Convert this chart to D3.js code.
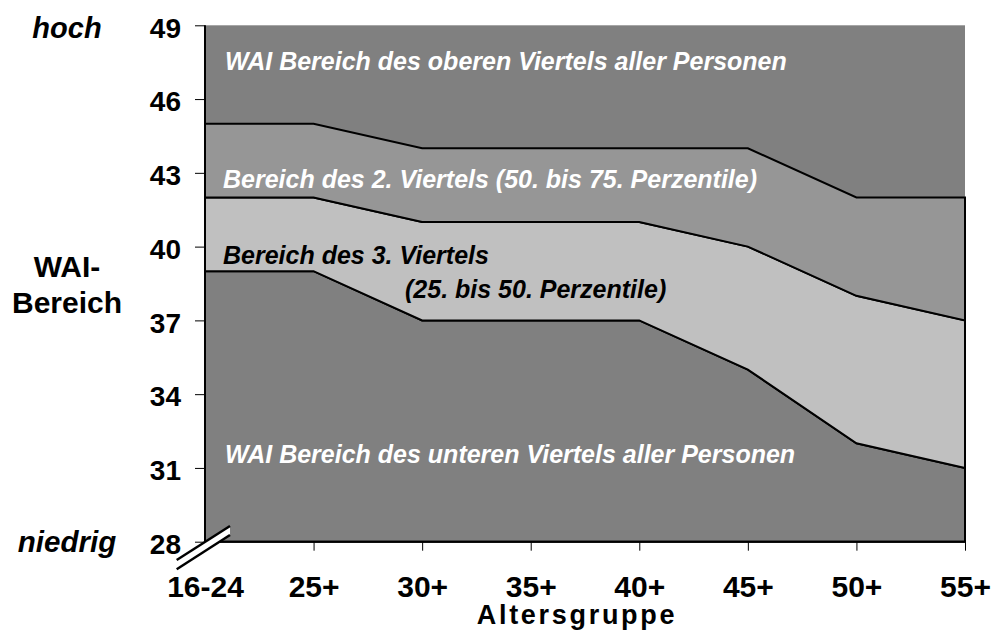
<!DOCTYPE html>
<html>
<head>
<meta charset="utf-8">
<script src="https://cdn.jsdelivr.net/npm/d3@7/dist/d3.min.js"></script>
<style>
  html, body { margin: 0; padding: 0; background: #fff; }
  svg { display: block; }
  text { font-family: "Liberation Sans", Arial, sans-serif; }
</style>
</head>
<body>
<svg id="chart" width="993" height="630"></svg>
<script>
// ---- data ----
const categories = ["16-24", "25+", "30+", "35+", "40+", "45+", "50+", "55+"];
const p25 = [39, 39, 37, 37, 37, 35, 32, 31];
const p50 = [42, 42, 41, 41, 41, 40, 38, 37];
const p75 = [45, 45, 44, 44, 44, 44, 42, 42];
const yTicks = [28, 31, 34, 37, 40, 43, 46, 49];
const yMin = 28, yMax = 49;
const bandLabels = [
  { text: "WAI Bereich des oberen Viertels aller Personen", cat: 0, val: 47.2, dx: 20, color: "#fff" },
  { text: "Bereich des 2. Viertels (50. bis 75. Perzentile)", cat: 0, val: 42.4, dx: 18, color: "#fff" },
  { text: "Bereich des 3. Viertels", cat: 0, val: 39.3, dx: 18, color: "#000" },
  { text: "(25. bis 50. Perzentile)", cat: 0, val: 37.9, dx: 200, color: "#000" },
  { text: "WAI Bereich des unteren Viertels aller Personen", cat: 0, val: 31.2, dx: 20, color: "#fff" }
];

const svg = d3.select("#chart");
const L = 205, R = 965, T = 25.3, B = 541.7;

const x = d3.scalePoint().domain(categories).range([L, R]);
const y = d3.scaleLinear().domain([yMin, yMax]).range([B, T]);

// plot background (top quarter)
svg.append("rect").attr("x", L).attr("y", T).attr("width", R - L).attr("height", B - T)
  .attr("fill", "#808080");

const rows = categories.map((c, i) => ({ c, p25: p25[i], p50: p50[i], p75: p75[i] }));

const bands = [
  { lo: d => yMin, hi: d => d.p25, fill: "#808080" },
  { lo: d => d.p25, hi: d => d.p50, fill: "#c0c0c0" },
  { lo: d => d.p50, hi: d => d.p75, fill: "#969696" }
];
bands.forEach(b => {
  const area = d3.area().x(d => x(d.c)).y0(d => y(b.lo(d))).y1(d => y(b.hi(d)));
  svg.append("path").datum(rows).attr("d", area)
    .attr("fill", b.fill).attr("stroke", "#000").attr("stroke-width", 2)
    .attr("stroke-linejoin", "miter");
});

// y axis
const yAxis = d3.axisLeft(y).tickValues(yTicks).tickSize(10).tickPadding(14);
const gy = svg.append("g").attr("transform", `translate(${L},0)`).call(yAxis);
gy.select(".domain").attr("stroke", "#000").attr("stroke-width", 2).attr("d", `M0,${T}V${B}`);
gy.selectAll(".tick line").attr("stroke", "#000").attr("stroke-width", 1);
gy.selectAll(".tick text").attr("font-size", 28).attr("font-weight", "bold")
  .attr("font-family", "'Liberation Sans', Arial, sans-serif").attr("fill", "#000")
  .attr("dy", "0.42em");

// x axis
const xAxis = d3.axisBottom(x).tickSize(9).tickPadding(0);
const gx = svg.append("g").attr("transform", `translate(0,${B})`).call(xAxis);
gx.select(".domain").attr("stroke", "#000").attr("stroke-width", 2).attr("d", `M${L},0H${R}`);
gx.selectAll(".tick line").attr("stroke", "#000").attr("stroke-width", 1);
gx.selectAll(".tick text").attr("font-size", 30).attr("font-weight", "bold")
  .attr("font-family", "'Liberation Sans', Arial, sans-serif").attr("fill", "#000")
  .attr("dy", null).attr("y", 55);

// break mark at origin
const bk = svg.append("g");
bk.append("path")
  .attr("d", `M176.7,560 L230,526 L230,535 L176.7,569.3 Z`)
  .attr("fill", "#fff");
bk.append("line").attr("x1", 176.7).attr("y1", 560).attr("x2", 230).attr("y2", 526)
  .attr("stroke", "#000").attr("stroke-width", 2.5);
bk.append("line").attr("x1", 176.7).attr("y1", 569.3).attr("x2", 230).attr("y2", 535)
  .attr("stroke", "#000").attr("stroke-width", 2.5);

// band labels
bandLabels.forEach(l => {
  svg.append("text").attr("x", x(categories[l.cat]) + l.dx).attr("y", y(l.val))
    .attr("font-size", 25).attr("font-weight", "bold").attr("font-style", "italic")
    .attr("fill", l.color).text(l.text);
});

// side labels
const side = svg.append("g").attr("font-weight", "bold").attr("fill", "#000");
side.append("text").attr("x", 67).attr("y", 37.5).attr("text-anchor", "middle")
  .attr("font-size", 29).attr("font-style", "italic").text("hoch");
side.append("text").attr("x", 67).attr("y", 552).attr("text-anchor", "middle")
  .attr("font-size", 29.5).attr("font-style", "italic").text("niedrig");
side.append("text").attr("x", 67).attr("y", 277).attr("text-anchor", "middle")
  .attr("font-size", 30).text("WAI-");
side.append("text").attr("x", 67).attr("y", 313).attr("text-anchor", "middle")
  .attr("font-size", 30).text("Bereich");

// x axis title
svg.append("text").attr("x", 577).attr("y", 624).attr("text-anchor", "middle")
  .attr("font-size", 27).attr("font-weight", "bold").attr("letter-spacing", 2.7)
  .attr("fill", "#000").text("Altersgruppe");
</script>
</body>
</html>
